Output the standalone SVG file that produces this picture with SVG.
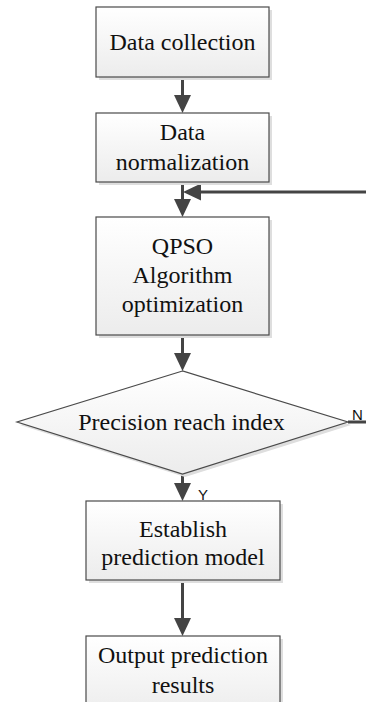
<svg xmlns="http://www.w3.org/2000/svg" width="366" height="702" viewBox="0 0 366 702">
  <style>
    .shadow { fill: #dedede; }
    .box { fill: url(#boxFill); stroke: #4a4a4a; stroke-width: 1.2; }
    .label { font-family: 'Liberation Serif', serif; font-size: 24px; fill: #111; text-anchor: middle; }
    .tag { font-family: 'Liberation Sans', sans-serif; font-size: 15px; fill: #111; }
    .link { fill: none; stroke: #444; stroke-width: 3; marker-end: url(#arrow); }
  </style>
  <defs>
    <linearGradient id="boxFill" x1="0" y1="0" x2="0" y2="1">
      <stop offset="0" stop-color="#ffffff"/>
      <stop offset="1" stop-color="#ececec"/>
    </linearGradient>
    <marker id="arrow" viewBox="0 0 18 17" refX="8" refY="8.5" markerWidth="18" markerHeight="17" markerUnits="userSpaceOnUse" orient="auto">
      <path d="M0,0 L18,8.5 L0,17 z" fill="#444"/>
    </marker>
  </defs>

  <g id="connectors">
    <line class="link" x1="182.5" y1="77" x2="182.5" y2="103"/>
    <line class="link" x1="182.5" y1="182" x2="182.5" y2="207"/>
    <line class="link" x1="182.5" y1="335" x2="182.5" y2="361"/>
    <line class="link" x1="182.5" y1="474" x2="182.5" y2="491"/>
    <line class="link" x1="182.5" y1="580" x2="182.5" y2="626"/>
    <!-- N branch loops back above the QPSO step -->
    <path class="link" d="M348,422 H372 V192 H193"/>
    <text class="tag" x="352" y="420">N</text>
    <text class="tag" x="198" y="500">Y</text>
  </g>

  <g id="data-collection">
    <rect class="shadow" x="99" y="10" width="173" height="70"/>
    <rect class="box" x="96" y="7" width="173" height="70"/>
    <text class="label" x="182.5" y="50">Data collection</text>
  </g>

  <g id="data-normalization">
    <rect class="shadow" x="99" y="116" width="173" height="69"/>
    <rect class="box" x="96" y="113" width="173" height="69"/>
    <text class="label" x="182.5" y="140">Data</text>
    <text class="label" x="182.5" y="170">normalization</text>
  </g>

  <g id="qpso-optimization">
    <rect class="shadow" x="99" y="220" width="173" height="118"/>
    <rect class="box" x="96" y="217" width="173" height="118"/>
    <text class="label" x="182.5" y="254">QPSO</text>
    <text class="label" x="182.5" y="283">Algorithm</text>
    <text class="label" x="182.5" y="312">optimization</text>
  </g>

  <g id="precision-check">
    <polygon class="shadow" points="185,374 20,425 185,477 351,425"/>
    <polygon class="box" points="182.5,371 17,422 182.5,474 348,422"/>
    <text class="label" x="181.5" y="430">Precision reach index</text>
  </g>

  <g id="establish-model">
    <rect class="shadow" x="89" y="504" width="194" height="79"/>
    <rect class="box" x="86" y="501" width="194" height="79"/>
    <text class="label" x="183" y="537">Establish</text>
    <text class="label" x="183" y="565">prediction model</text>
  </g>

  <g id="output-results">
    <rect class="shadow" x="89" y="639" width="194" height="80"/>
    <rect class="box" x="86" y="636" width="194" height="80"/>
    <text class="label" x="183" y="663">Output prediction</text>
    <text class="label" x="183" y="693">results</text>
  </g>
</svg>
